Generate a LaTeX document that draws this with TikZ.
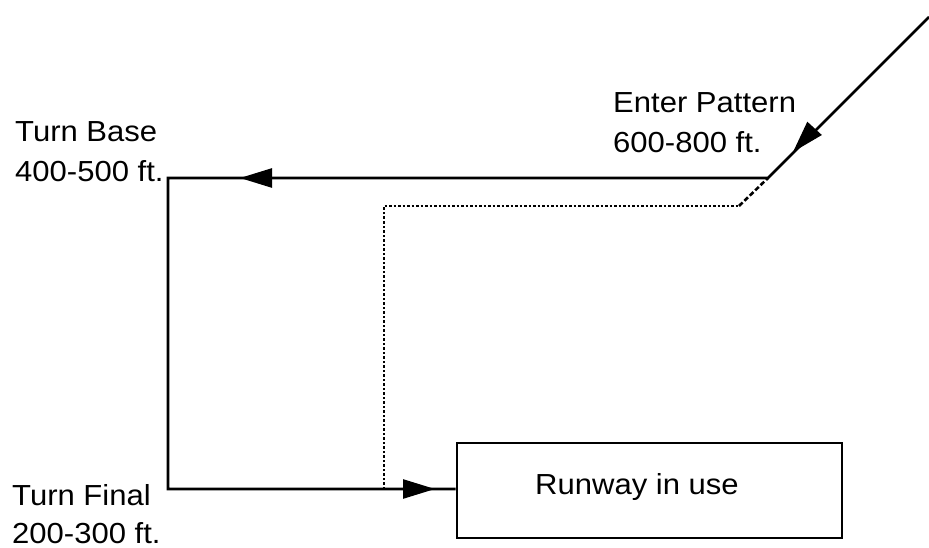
\documentclass[tikz,border=0pt]{standalone}
\usepackage{fontspec}
\setmainfont[FakeStretch=1.07]{Liberation Sans}
\usetikzlibrary{arrows.meta}
\begin{document}
\begin{tikzpicture}[x=1pt,y=-1pt,
  lbl/.style={anchor=base west,inner sep=0pt,font=\fontsize{29}{40}\selectfont},
  route/.style={line width=2.6pt},
  tip/.style={-{Triangle[length=32pt,width=19pt]},line width=2.6pt},
  dots/.style={line width=2.6pt,dash pattern=on 2.5pt off 2pt},
  dashes/.style={line width=2.6pt,dash pattern=on 5pt off 2.5pt}]
\useasboundingbox (0,0) rectangle (929,548);
% coordinates
\coordinate (start) at (929,17);
\coordinate (enter) at (768,178);
\coordinate (base) at (168,178);
\coordinate (final) at (168,489);
\coordinate (d1) at (384,489);
\coordinate (d2) at (384,206);
\coordinate (d3) at (739,206);
% runway box
\node[draw,line width=2.6pt,minimum width=385pt,minimum height=95pt,inner sep=0pt] (runway) at (649.5,490.5) {};
\node[lbl] (rwtext) at (535,494) {Runway in use};
% route
\draw[route] (start) -- (enter) -- (base) -- (final) -- (runway.west |- final);
% arrowheads
\coordinate (a1s) at (814,129);
\coordinate (a1e) at (793,152);
\draw[tip] (a1s) -- (a1e);
\coordinate (a2s) at (273,178);
\coordinate (a2e) at (240,178);
\draw[tip] (a2s) -- (a2e);
\coordinate (a3s) at (402,489);
\coordinate (a3e) at (435,489);
\draw[tip] (a3s) -- (a3e);
% dotted path
\draw[dots] (d1) -- (d2) -- (d3);
\draw[dashes] (d3) -- (enter);
% labels
\node[lbl] (tb1) at (15,141.7) {Turn Base};
\node[lbl] (tb2) at (15,181.7) {400-500 ft.};
\node[lbl] (ep1) at (613,112.7) {Enter Pattern};
\node[lbl] (ep2) at (613,152.7) {600-800 ft.};
\node[lbl] (tf1) at (12,505) {Turn Final};
\node[lbl] (tf2) at (12,543) {200-300 ft.};
\end{tikzpicture}
\end{document}
